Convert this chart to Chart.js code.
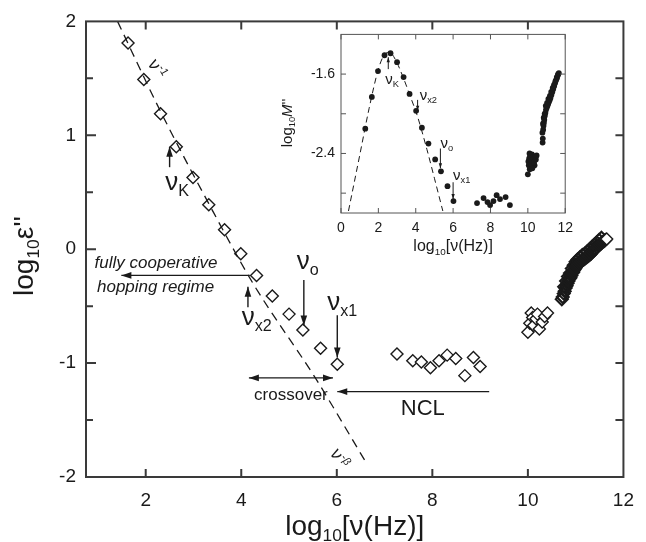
<!DOCTYPE html>
<html>
<head>
<meta charset="utf-8">
<script src="https://cdn.jsdelivr.net/npm/chart.js@4.4.1/dist/chart.umd.min.js"></script>
<style>
  html, body { margin: 0; padding: 0; background: #fff; }
  #wrap { position: relative; width: 646px; height: 542px; }
  #main { position: absolute; left: 0; top: 0; }
  #inset { position: absolute; left: 270px; top: 20px; }
</style>
</head>
<body>
<div id="wrap">
  <canvas id="main" width="646" height="542"></canvas>
  <canvas id="inset" width="310" height="245"></canvas>
</div>
<script>
// ---- data: log10 eps'' vs log10 nu ----
const lowX = [1.63, 1.96, 2.31, 2.64, 2.99, 3.32, 3.65, 3.99, 4.32, 4.65, 5.00, 5.29, 5.66, 6.01];
const lowY = [1.81, 1.49, 1.19, 0.90, 0.63, 0.39, 0.17, -0.04, -0.23, -0.41, -0.57, -0.71, -0.87, -1.01];
const nclX = [7.26, 7.59, 7.77, 7.96, 8.14, 8.31, 8.49, 8.68, 8.86, 9.00];
const nclY = [-0.92, -0.98, -0.99, -1.04, -0.98, -0.93, -0.96, -1.11, -0.95, -1.03];
const clusterX = [10.00, 10.04, 10.07, 10.10, 10.12, 10.17, 10.20, 10.24, 10.30, 10.35, 10.41];
const clusterY = [-0.73, -0.65, -0.56, -0.60, -0.67, -0.61, -0.57, -0.70, -0.64, -0.59, -0.56];
const bandX = [10.71, 10.73, 10.75, 10.77, 10.79, 10.81, 10.83, 10.85, 10.87, 10.89, 10.91, 10.93, 10.95, 10.97, 10.99,
  11.01, 11.03, 11.05, 11.08, 11.11, 11.14, 11.17, 11.20, 11.23, 11.26, 11.29, 11.32, 11.35, 11.38, 11.41,
  11.44, 11.47, 11.50, 11.53, 11.56, 11.59, 11.62];
const bandY = [-0.44, -0.42, -0.39, -0.37, -0.34, -0.32, -0.30, -0.28, -0.26, -0.25, -0.23, -0.21, -0.20, -0.18, -0.17,
  -0.15, -0.14, -0.13, -0.12, -0.11, -0.10, -0.09, -0.08, -0.07, -0.06, -0.05, -0.04, -0.02, -0.01, 0.00,
  0.02, 0.03, 0.04, 0.05, 0.06, 0.07, 0.08];
const band2X = [10.76, 10.80, 10.84, 10.88, 10.92, 10.96, 11.00, 11.04, 11.09, 11.14, 11.19, 11.24, 11.29, 11.34, 11.39, 11.44, 11.49, 11.54];
const band2Y = [-0.33, -0.28, -0.24, -0.21, -0.17, -0.14, -0.11, -0.09, -0.07, -0.05, -0.04, -0.02, 0.00, 0.02, 0.04, 0.06, 0.08, 0.10];
// last open diamond at the top end of the band
const bandEndX = [11.65];
const bandEndY = [0.09];
// dashed guide through the low-frequency points
const fitX = [1.41, 2.31, 3.32, 4.26, 5.55, 6.58];
const fitY = [2.00, 1.21, 0.40, -0.31, -1.13, -1.85];

// inset: log10 M'' vs log10 nu
const modX = [1.30, 1.65, 1.98, 2.33, 2.65, 3.00, 3.35, 3.67, 4.02, 4.33, 4.68, 5.04, 5.35, 5.70, 6.02,
  7.28, 7.63, 7.84, 7.98, 8.16, 8.33, 8.51, 8.81, 9.04];
const modY = [-2.15, -1.83, -1.57, -1.41, -1.39, -1.48, -1.63, -1.80, -1.97, -2.14, -2.30, -2.46, -2.58, -2.73, -2.88,
  -2.90, -2.85, -2.89, -2.92, -2.88, -2.82, -2.86, -2.84, -2.92];
const modHiX = [10.00, 10.05, 10.07, 10.10, 10.13, 10.16, 10.20, 10.24, 10.28, 10.33, 10.38, 10.43, 10.47,
  10.79, 10.80, 10.82, 10.84, 10.86, 10.88, 10.91, 10.94, 10.97, 11.01, 11.05, 11.09, 11.13, 11.17,
  11.21, 11.26, 11.31, 11.36, 11.41, 11.46, 11.51, 11.56, 11.61, 11.66];
const modHiY = [-2.61, -2.52, -2.45, -2.56, -2.42, -2.50, -2.47, -2.55, -2.44, -2.49, -2.43, -2.46, -2.42,
  -2.29, -2.25, -2.16, -2.12, -2.09, -2.06, -2.02, -1.99, -1.96, -1.94, -1.92, -1.90, -1.88, -1.86,
  -1.84, -1.81, -1.78, -1.75, -1.72, -1.69, -1.66, -1.64, -1.61, -1.59];
const modHi2X = [10.03, 10.09, 10.15, 10.22, 10.36, 10.78, 10.81, 10.85, 10.90, 10.96, 11.03, 11.10, 11.18, 11.25, 11.33, 11.40, 11.48, 11.55, 11.62];
const modHi2Y = [-2.48, -2.40, -2.53, -2.41, -2.52, -2.19, -2.10, -2.04, -2.00, -1.92, -1.89, -1.85, -1.82, -1.78, -1.74, -1.71, -1.67, -1.63, -1.60];
const peakFitX = [0.40, 1.00, 1.50, 2.00, 2.30, 2.60, 2.90, 3.30, 3.70, 4.10, 4.60, 5.00, 5.45];
const peakFitY = [-2.98, -2.42, -1.95, -1.55, -1.41, -1.38, -1.45, -1.62, -1.82, -2.03, -2.36, -2.65, -2.98];

// ticks
const mainXTicks = [2, 4, 6, 8, 10, 12];
const mainYTicks = [-2, -1, 0, 1, 2];
const mainYMinor = [-1.5, -0.5, 0.5, 1.5];
const insetXTicks = [0, 2, 4, 6, 8, 10, 12];
const insetYTicks = [-1.6, -2.4];
const insetYMinor = [-2.0, -2.8];

const FAMILY = '"Liberation Sans", Arial, sans-serif';
const INK = '#1a1a1a';
Chart.defaults.font.family = FAMILY;
Chart.defaults.color = INK;

const pts = (xs, ys) => xs.map((x, i) => ({ x, y: ys[i] }));

// annotations, in data units of each chart
const mainArrows = [
  { from: [2.50, 0.72], to: [2.50, 0.90] },
  { from: [4.18, -0.23], to: [1.49, -0.23] },
  { from: [4.14, -0.51], to: [4.14, -0.33] },
  { from: [5.31, -0.27], to: [5.31, -0.67] },
  { from: [6.01, -0.58], to: [6.01, -0.95] },
  { from: [4.16, -1.13], to: [5.92, -1.13], both: true },
  { from: [9.19, -1.25], to: [6.01, -1.25] },
];
const mainLabels = [
  { at: [2.41, 0.52], parts: [['ν', ''], ['K', 'sub']], size: 26 },
  { at: [4.01, -0.667], parts: [['ν', ''], ['x2', 'sub']], size: 26 },
  { at: [5.16, -0.175], parts: [['ν', ''], ['o', 'sub']], size: 26 },
  { at: [5.80, -0.535], parts: [['ν', ''], ['x1', 'sub']], size: 26 },
  { at: [0.93, -0.167], parts: [['fully cooperative', '']], size: 17, italic: true },
  { at: [0.98, -0.377], parts: [['hopping regime', '']], size: 17, italic: true },
  { at: [5.04, -1.325], parts: [['crossover', '']], size: 17, align: 'center' },
  { at: [7.80, -1.456], parts: [['NCL', '']], size: 22, align: 'center' },
  { at: [2.22, 1.58], parts: [['ν', ''], ['-1', 'sup']], size: 18, align: 'center', rotate: Math.PI / 3, dy: 5 },
  { at: [6.04, -1.84], parts: [['ν', ''], ['-β', 'sup']], size: 18, align: 'center', rotate: Math.PI / 3, dy: 5 },
];
const insetArrows = [
  { from: [2.53, -1.55], to: [2.53, -1.43] },
  { from: [4.10, -1.86], to: [4.10, -1.97] },
  { from: [5.32, -2.35], to: [5.32, -2.55] },
  { from: [6.00, -2.69], to: [6.00, -2.86] },
];
const insetLabels = [
  { at: [2.37, -1.70], parts: [['ν', ''], ['K', 'sub']], size: 15 },
  { at: [4.21, -1.857], parts: [['ν', ''], ['x2', 'sub']], size: 15 },
  { at: [5.32, -2.34], parts: [['ν', ''], ['o', 'sub']], size: 15 },
  { at: [6.00, -2.667], parts: [['ν', ''], ['x1', 'sub']], size: 15 },
];

function drawRich(ctx, parts, x, y, o) {
  ctx.save();
  ctx.translate(x, y);
  if (o.rotate) ctx.rotate(o.rotate);
  let total = 0;
  const segs = parts.map(([t, k]) => {
    const small = k === 'sub' || k === 'sup';
    const size = small ? o.size * 0.62 : o.size;
    const style = (o.italic || k === 'it') ? 'italic ' : '';
    const font = style + size + 'px ' + FAMILY;
    ctx.font = font;
    const w = ctx.measureText(t).width;
    total += w;
    const dy = k === 'sub' ? o.size * 0.22 : k === 'sup' ? -o.size * 0.4 : 0;
    return { t, font, w, dy };
  });
  let cx = o.align === 'center' ? -total / 2 : o.align === 'right' ? -total : 0;
  ctx.fillStyle = INK;
  ctx.textAlign = 'left';
  ctx.textBaseline = 'alphabetic';
  segs.forEach(s => {
    ctx.font = s.font;
    ctx.fillText(s.t, cx, (o.dy || 0) + s.dy);
    cx += s.w;
  });
  ctx.restore();
}

function tip(ctx, x1, y1, x2, y2, h) {
  const a = Math.atan2(y2 - y1, x2 - x1);
  const w = h * 0.33;
  ctx.beginPath();
  ctx.moveTo(x2, y2);
  ctx.lineTo(x2 - h * Math.cos(a) + w * Math.sin(a), y2 - h * Math.sin(a) - w * Math.cos(a));
  ctx.lineTo(x2 - h * Math.cos(a) - w * Math.sin(a), y2 - h * Math.sin(a) + w * Math.cos(a));
  ctx.closePath();
  ctx.fill();
}

function arrow(ctx, x1, y1, x2, y2, h, both) {
  ctx.beginPath();
  ctx.moveTo(x1, y1);
  ctx.lineTo(x2, y2);
  ctx.stroke();
  tip(ctx, x1, y1, x2, y2, h);
  if (both) tip(ctx, x2, y2, x1, y1, h);
}

// box round the plot area with inward ticks on all four sides
const frame = {
  id: 'frame',
  afterDraw(chart, args, o) {
    const { ctx, chartArea: a, scales: { x, y } } = chart;
    ctx.save();
    ctx.strokeStyle = o.color;
    ctx.lineWidth = o.width;
    ctx.strokeRect(a.left, a.top, a.right - a.left, a.bottom - a.top);
    ctx.beginPath();
    o.xTicks.forEach(v => {
      const p = x.getPixelForValue(v);
      ctx.moveTo(p, a.bottom); ctx.lineTo(p, a.bottom - o.len);
      ctx.moveTo(p, a.top); ctx.lineTo(p, a.top + o.len);
    });
    o.yMajor.forEach(v => {
      const p = y.getPixelForValue(v);
      ctx.moveTo(a.left, p); ctx.lineTo(a.left + o.majorLen, p);
      ctx.moveTo(a.right, p); ctx.lineTo(a.right - o.len, p);
    });
    o.yMinor.forEach(v => {
      const p = y.getPixelForValue(v);
      ctx.moveTo(a.left, p); ctx.lineTo(a.left + o.minorLen, p);
      ctx.moveTo(a.right, p); ctx.lineTo(a.right - o.len, p);
    });
    ctx.stroke();
    ctx.restore();
  }
};

function notesPlugin(id, arrows, labels, lw, head, titles) {
  return {
    id,
    afterDraw(chart) {
      const { ctx, chartArea: a, scales: { x, y } } = chart;
      const px = v => x.getPixelForValue(v);
      const py = v => y.getPixelForValue(v);
      ctx.save();
      ctx.strokeStyle = INK;
      ctx.fillStyle = INK;
      ctx.lineWidth = lw;
      arrows.forEach(r => arrow(ctx, px(r.from[0]), py(r.from[1]), px(r.to[0]), py(r.to[1]), head, r.both));
      labels.forEach(l => drawRich(ctx, l.parts, px(l.at[0]), py(l.at[1]), l));
      titles(ctx, a);
      ctx.restore();
    }
  };
}

function axisX(min, max, ticks, size, pad, h, fmt) {
  return {
    type: 'linear', min, max,
    grid: { display: false, drawTicks: false },
    border: { display: false },
    ticks: { font: { size }, color: INK, padding: pad, maxRotation: 0, autoSkip: false, callback: fmt },
    afterBuildTicks: s => { s.ticks = ticks.map(v => ({ value: v })); },
    afterFit: s => { s.height = h; }
  };
}
function axisY(min, max, ticks, size, pad, w, fmt) {
  return {
    type: 'linear', min, max,
    grid: { display: false, drawTicks: false },
    border: { display: false },
    ticks: { font: { size }, color: INK, padding: pad, autoSkip: false, callback: fmt },
    afterBuildTicks: s => { s.ticks = ticks.map(v => ({ value: v })); },
    afterFit: s => { s.width = w; }
  };
}

const diamond = {
  pointStyle: 'rectRot', pointRadius: 6, pointHoverRadius: 6,
  borderColor: INK, backgroundColor: '#fff', borderWidth: 1.4, showLine: false
};
// densely packed open diamonds: outlines only so overlaps build up dark
const packed = { ...diamond, backgroundColor: 'rgba(255,255,255,0)', borderWidth: 2.1 };
const dot = { pointRadius: 2.9, pointHoverRadius: 2.9, backgroundColor: INK, borderWidth: 0, showLine: false };

new Chart(document.getElementById('main'), {
  type: 'scatter',
  data: {
    datasets: [
      { data: pts(fitX, fitY), showLine: true, borderColor: INK, borderWidth: 1.3, borderDash: [9, 6],
        pointRadius: 0, cubicInterpolationMode: 'monotone', fill: false },
      { data: pts(lowX, lowY), ...diamond },
      { data: pts(nclX, nclY), ...diamond },
      { data: pts(clusterX, clusterY), ...diamond },
      { data: pts(bandEndX, bandEndY), ...diamond },
      { data: pts(bandX, bandY), ...packed },
      { data: pts(band2X, band2Y), ...packed },
    ]
  },
  options: {
    responsive: false,
    animation: false,
    layout: { padding: { left: 0, top: 21, right: 13, bottom: 0 } },
    plugins: {
      legend: { display: false },
      tooltip: { enabled: false },
      frame: { color: '#3a3a3a', width: 2, len: 8, majorLen: 10, minorLen: 7,
        xTicks: [2, 4, 6, 8, 10], yMajor: [-1, 0, 1], yMinor: mainYMinor }
    },
    scales: {
      x: axisX(0.75, 12, mainXTicks, 19, 12, 65, v => String(v)),
      y: axisY(-2, 2, mainYTicks, 19, 10, 86, v => String(v))
    }
  },
  plugins: [frame, notesPlugin('mainNotes', mainArrows, mainLabels, 1.4, 10, (ctx, a) => {
    drawRich(ctx, [['log', ''], ['10', 'sub'], ['[ν(Hz)]', '']], (a.left + a.right) / 2, 535, { size: 28, align: 'center' });
    drawRich(ctx, [['log', ''], ['10', 'sub'], ["ε''", '']], 33, 256, { size: 28, align: 'center', rotate: -Math.PI / 2 });
  })]
});

new Chart(document.getElementById('inset'), {
  type: 'scatter',
  data: {
    datasets: [
      { data: pts(peakFitX, peakFitY), showLine: true, borderColor: INK, borderWidth: 1, borderDash: [6, 4],
        pointRadius: 0, cubicInterpolationMode: 'monotone', fill: false },
      { data: pts(modX, modY), ...dot },
      { data: pts(modHiX, modHiY), ...dot },
      { data: pts(modHi2X, modHi2Y), ...dot },
    ]
  },
  options: {
    responsive: false,
    animation: false,
    layout: { padding: { left: 0, top: 11, right: 11, bottom: 0 } },
    plugins: {
      legend: { display: false },
      tooltip: { enabled: false },
      frame: { color: '#555', width: 1, len: 5, majorLen: 5, minorLen: 5,
        xTicks: insetXTicks, yMajor: insetYTicks, yMinor: insetYMinor }
    },
    scales: {
      x: axisX(0, 12, insetXTicks, 14, 7, 52, v => String(v)),
      y: axisY(-3.0, -1.2, insetYTicks, 14, 6, 71, v => v.toFixed(1))
    }
  },
  plugins: [frame, notesPlugin('insetNotes', insetArrows, insetLabels, 1, 5, (ctx, a) => {
    drawRich(ctx, [['log', ''], ['10', 'sub'], ['[ν(Hz)]', '']], (a.left + a.right) / 2, 231, { size: 16, align: 'center' });
    drawRich(ctx, [['log', ''], ['10', 'sub'], ['M', 'it'], ["''", '']], 22, 103, { size: 15, align: 'center', rotate: -Math.PI / 2 });
  })]
});
</script>
</body>
</html>
